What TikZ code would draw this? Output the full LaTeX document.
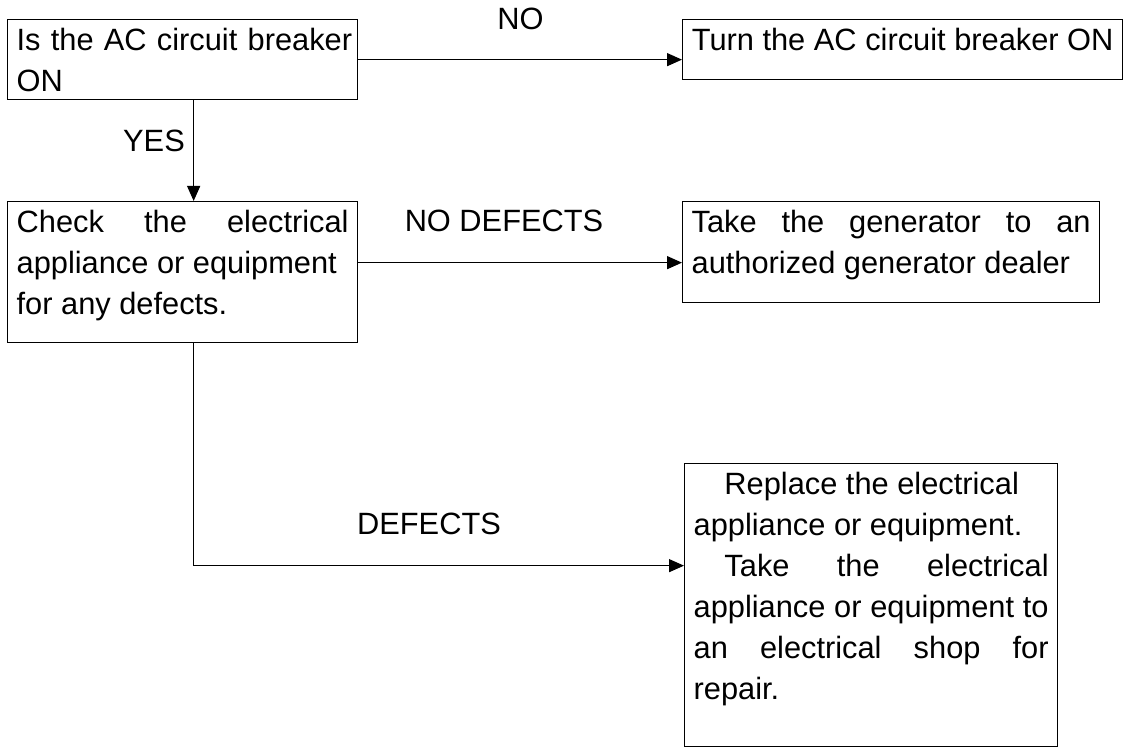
\documentclass[tikz,border=0pt]{standalone}
\usepackage{fontspec}
\setmainfont{Liberation Sans}
\usetikzlibrary{arrows.meta}

\begin{document}
\begin{tikzpicture}[x=0.5pt, y=-0.5pt,
  font=\fontsize{15.4}{20.5}\selectfont, >={Triangle[length=7.5pt, width=6.5pt]},
  box/.style={draw, line width=0.65pt, anchor=north west, inner xsep=4.5pt, inner ysep=4pt, text height=11.5pt},
  lbl/.style={anchor=base, inner sep=0pt},
  arr/.style={->, line width=0.65pt}]
  \useasboundingbox (0,0) rectangle (1128,747);
  \node[box, align=left, text width=166pt, text depth=20.5pt] (brk) at (7,19) {\mbox{Is the AC circuit breaker}\\ON};
  \node[box, inner xsep=0pt, minimum width=220pt, text depth=10.5pt] (turn) at (682,19) {Turn the AC circuit breaker ON};
  \node[box, align=justify, text width=166pt, text depth=51pt] (chk) at (7,201) {Check the electrical\linebreak appliance or equipment\\for any defects.};
  \node[box, align=justify, text width=199.5pt, text depth=31pt] (dealer) at (682,201) {Take the generator to an\linebreak authorized generator dealer};
  \node[box, align=justify, text width=177.5pt, inner xsep=4.5pt, text depth=122pt] (repl) at (684,463) {\hspace*{1em}Replace the electrical\\appliance or equipment.\\\hspace*{1em}Take the electrical\linebreak appliance or equipment to\linebreak an electrical shop for\linebreak repair.};
  \node[lbl] (no)    at (520.5,30) {NO};
  \node[lbl] (yes)   at (154,152)  {YES};
  \node[lbl] (nodef) at (504,232)  {NO DEFECTS};
  \node[lbl] (def)   at (429,535)  {DEFECTS};
  \draw[arr] (brk.east) -- (brk.east -| turn.west);
  \draw[arr] ([xshift=5.5pt]brk.south) -- ([xshift=5.5pt]brk.south |- chk.north);
  \draw[arr] ([yshift=4.75pt]chk.east) -- ([yshift=4.75pt]chk.east -| dealer.west);
  \draw[arr] ([xshift=5.5pt]chk.south) |- ([yshift=19.75pt]repl.west);
\end{tikzpicture}
\end{document}
